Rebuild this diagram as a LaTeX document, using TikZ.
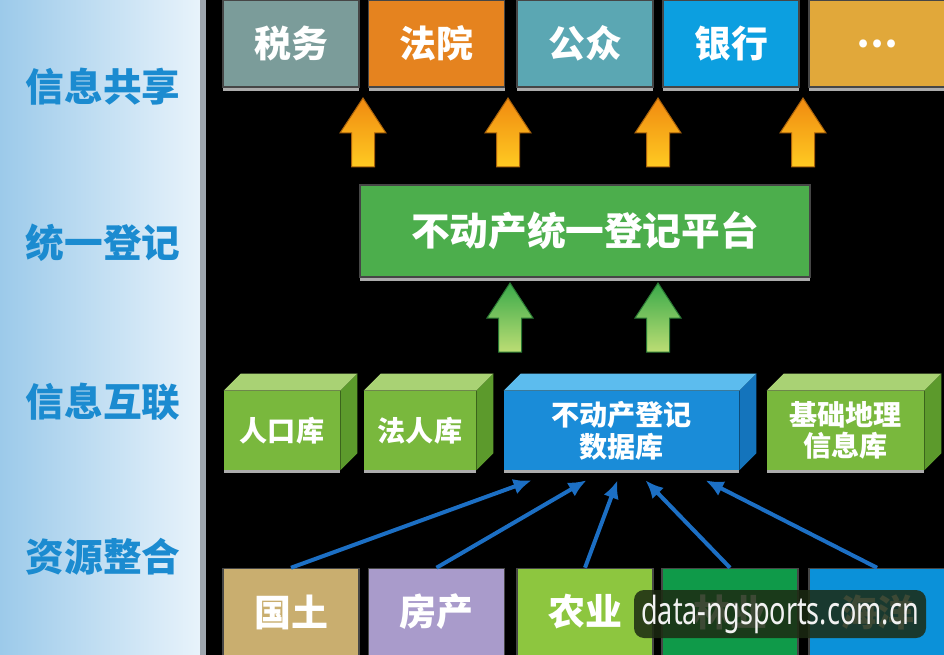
\documentclass[tikz,border=0pt]{standalone}
\usepackage{fontspec}
\newfontfamily\cjk{Noto Sans CJK SC}
\newfontfamily\markfont[FakeStretch=0.7]{Noto Sans}
\usetikzlibrary{arrows.meta,positioning,calc,shadows}
\definecolor{panelL}{HTML}{9CCAEA}
\definecolor{panelR}{HTML}{E8F3FB}
\definecolor{panelEdge}{HTML}{9EA6AE}
\definecolor{layerblue}{HTML}{1B8BD0}
\definecolor{shuiwu}{HTML}{7B9C9A}
\definecolor{fayuan}{HTML}{E5831F}
\definecolor{gongzhong}{HTML}{5BA7B3}
\definecolor{yinhang}{HTML}{0C9FE0}
\definecolor{moregold}{HTML}{E1A83A}
\definecolor{platgreen}{HTML}{4CAE4C}
\definecolor{uporange}{HTML}{F08A10}
\definecolor{upyellow}{HTML}{FFCA22}
\definecolor{upgreen}{HTML}{3AAA4A}
\definecolor{uplight}{HTML}{BCDD74}
\definecolor{cubefront}{HTML}{79B83D}
\definecolor{cubetop}{HTML}{A9D274}
\definecolor{cubeside}{HTML}{5C9A2C}
\definecolor{dbfront}{HTML}{1A8CD8}
\definecolor{dbtop}{HTML}{5CBCEE}
\definecolor{dbside}{HTML}{1474BC}
\definecolor{guotu}{HTML}{C9AE6F}
\definecolor{fangchan}{HTML}{A99BCB}
\definecolor{nongye}{HTML}{8DC63F}
\definecolor{linye}{HTML}{0F9A49}
\definecolor{haiyang}{HTML}{0B91D9}
\definecolor{linkblue}{HTML}{1C6FC4}
\definecolor{markbg}{HTML}{1C2A12}
\tikzset{
  layer/.style={text=layerblue,font=\cjk\bfseries\fontsize{22}{22}\selectfont},
  tile/.style={rectangle,draw=gray!55!black,line width=0.3mm,text=white,inner sep=0pt,
    minimum width=27.2mm,minimum height=17.4mm,font=\cjk\bfseries\fontsize{21}{21}\selectfont,
    drop shadow={shadow xshift=0mm,shadow yshift=-0.8mm,fill=gray!65,opacity=1}},
  cube/.style={rectangle,text=white,align=center,inner sep=0pt,minimum height=15.8mm,
    font=\cjk\bfseries\fontsize{16}{18}\selectfont,
    drop shadow={shadow xshift=0mm,shadow yshift=-0.6mm,fill=gray!65,opacity=1}},
  link/.style={draw=linkblue,line width=0.8mm,-{Latex[length=3.6mm,width=3.2mm]}}
}
% fat arrow pointing up, tip at #1
\newcommand\fatup[3]{%
  \shade[top color=#2,bottom color=#3,draw=#2!70!black,line width=0.2mm]
    (#1) -- ++(23,35) -- ++(-11.5,0) -- ++(0,34) -- ++(-23,0) -- ++(0,-34) -- ++(-11.5,0) -- cycle;}
% top and side faces of a box node
\newcommand\cubefaces[3]{%
  \fill[#2] (#1.north west) -- ++(17,-17) -- ($(#1.north east)+(17,-17)$) -- (#1.north east) -- cycle;
  \fill[#3] (#1.north east) -- ++(17,-17) -- ($(#1.south east)+(17,-17)$) -- (#1.south east) -- cycle;}
\begin{document}
\begin{tikzpicture}[x=0.2mm,y=-0.2mm]
  \useasboundingbox (0,0) rectangle (944,655);
  \clip (0,0) rectangle (944,655);
  % background and layer panel
  \fill[black] (0,0) rectangle (944,655);
  \shade[left color=panelL,right color=panelR] (0,0) rectangle (200,655);
  \fill[panelEdge] (200,0) rectangle (206,655);
  \node[layer] (share) at (103,87) {信息共享};
  \node[layer] (unify) at (103,243) {统一登记};
  \node[layer] (inter) at (103,402) {信息互联};
  \node[layer] (merge) at (103,557) {资源整合};

  % sharing targets
  \node[tile,fill=shuiwu] (shuiwu) at (291,43.5) {税务};
  \node[tile,fill=fayuan] (fayuan) at (436.5,43.5) {法院};
  \node[tile,fill=gongzhong] (gongzhong) at (585,43.5) {公众};
  \node[tile,fill=yinhang] (yinhang) at (731,43.5) {银行};
  \node[tile,fill=moregold] (more) at (877,43.5) {…};

  % platform
  \coordinate (o1) at (363,98);
  \coordinate (o2) at (508,98);
  \coordinate (o3) at (658,98);
  \coordinate (o4) at (803,98);
  \fatup{o1}{uporange}{upyellow}
  \fatup{o2}{uporange}{upyellow}
  \fatup{o3}{uporange}{upyellow}
  \fatup{o4}{uporange}{upyellow}
  \node[tile,fill=platgreen,minimum width=90mm,minimum height=18.4mm,
    font=\cjk\bfseries\fontsize{22}{22}\selectfont] (plat) at (585,231) {不动产统一登记平台};
  \coordinate (g1) at (510,283);
  \coordinate (g2) at (658,283);
  \fatup{g1}{upgreen}{uplight}
  \fatup{g2}{upgreen}{uplight}

  % linked databases
  \node[cube,fill=cubefront,minimum width=23.2mm] (renkou) at (282,430.5) {人口库};
  \cubefaces{renkou}{cubetop}{cubeside}
  \node[cube,fill=cubefront,minimum width=22.4mm] (faren) at (420,430.5) {法人库};
  \cubefaces{faren}{cubetop}{cubeside}
  \node[cube,fill=dbfront,minimum width=47mm] (db) at (621.5,430.5) {不动产登记\\数据库};
  \cubefaces{db}{dbtop}{dbside}
  \node[cube,fill=cubefront,minimum width=31.4mm] (geo) at (845.5,430.5) {基础地理\\信息库};
  \cubefaces{geo}{cubetop}{cubeside}

  % resources
  \node[tile,fill=guotu] (guotu) at (291,612) {国土};
  \node[tile,fill=fangchan] (fangchan) at (436.5,612) {房产};
  \node[tile,fill=nongye] (nongye) at (585,612) {农业};
  \node[tile,fill=linye] (linye) at (730,612) {林业};
  \node[tile,fill=haiyang] (haiyang) at (877,612) {海洋};
  \draw[link] (guotu.north) -- ($(db.south)+(-90,10)$);
  \draw[link] (fangchan.north) -- ($(db.south)+(-35,10)$);
  \draw[link] (nongye.north) -- ($(db.south)+(-4,10)$);
  \draw[link] (linye.north) -- ($(db.south)+(24,10)$);
  \draw[link] (haiyang.north) -- ($(db.south)+(84,10)$);

  % watermark
  \node[fill=markbg,fill opacity=0.85,text opacity=1,text=white!90!gray,rounded corners=2mm,
    minimum width=58.4mm,minimum height=9.6mm,inner sep=0pt,
    font=\markfont\fontsize{22}{22}\selectfont] (mark) at (780,614) {data-ngsports.com.cn};
\end{tikzpicture}
\end{document}
